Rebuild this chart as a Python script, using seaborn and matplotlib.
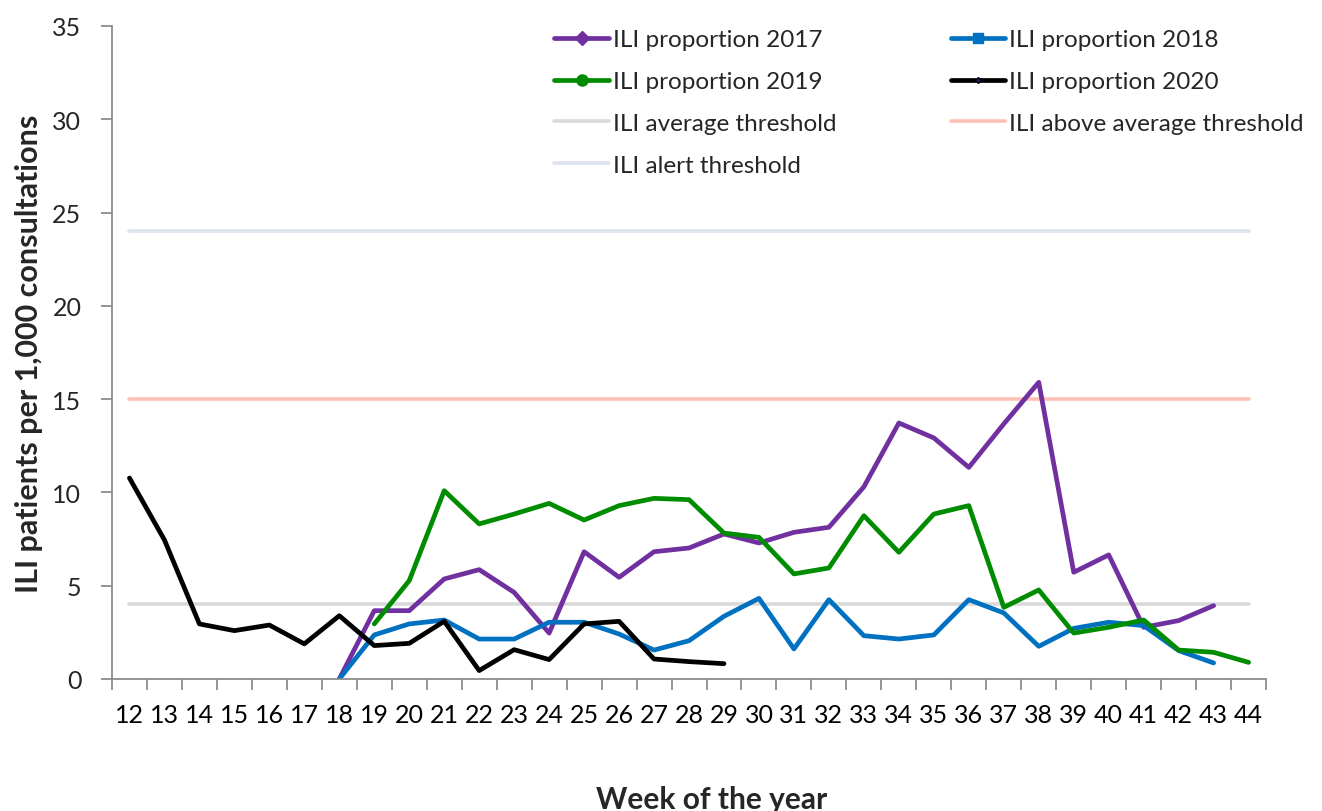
import numpy as np
import pandas as pd
import matplotlib
matplotlib.use("Agg")
import matplotlib.pyplot as plt
from matplotlib.lines import Line2D
import seaborn as sns

weeks = list(range(12, 45))

weeks_2017 = list(range(18, 44))
ili_2017 = [0.0, 3.66, 3.66, 5.36, 5.86, 4.64, 2.46, 6.82, 5.45, 6.82, 7.02, 7.77, 7.29,
            7.86, 8.13, 10.3, 13.72, 12.92, 11.34, 13.67, 15.9, 5.72, 6.65, 2.77, 3.13, 3.93]

weeks_2018 = list(range(18, 44))
ili_2018 = [0.0, 2.36, 2.95, 3.16, 2.14, 2.14, 3.04, 3.04, 2.41, 1.55, 2.05, 3.36, 4.32,
            1.61, 4.25, 2.32, 2.14, 2.36, 4.25, 3.54, 1.75, 2.71, 3.04, 2.86, 1.52, 0.86]

weeks_2019 = list(range(19, 45))
ili_2019 = [2.95, 5.27, 10.09, 8.31, 8.84, 9.41, 8.52, 9.29, 9.68, 9.61, 7.82, 7.59, 5.63,
            5.95, 8.75, 6.79, 8.84, 9.29, 3.84, 4.77, 2.46, 2.77, 3.16, 1.55, 1.43, 0.89]

weeks_2020 = list(range(12, 30))
ili_2020 = [10.77, 7.45, 2.95, 2.59, 2.89, 1.88, 3.39, 1.79, 1.91, 3.09, 0.45, 1.57, 1.04,
            2.95, 3.09, 1.07, 0.93, 0.82]

avg_threshold = 4.0
above_avg_threshold = 15.0
alert_threshold = 24.0

labels = ["ILI proportion 2017", "ILI proportion 2018", "ILI proportion 2019",
          "ILI proportion 2020", "ILI average threshold", "ILI above average threshold",
          "ILI alert threshold"]

sns.set_theme(style="white")
plt.rcParams['font.family'] = ['Lato', 'DejaVu Sans']

c17, c18, c19, c20 = "#7030A0", "#0070C0", "#008C00", "#000000"
c_avg, c_above, c_alert = "#D9D9D9", "#FFC0B4", "#DCE3EE"

fig = plt.figure(figsize=(13.22, 8.12), dpi=100)
ax = fig.add_axes([0.0847, 0.1626, 0.873, 0.8042])

lw_thr = 2.6
sns.lineplot(x=weeks, y=[alert_threshold] * len(weeks), ax=ax, color=c_alert, lw=lw_thr)
sns.lineplot(x=weeks, y=[above_avg_threshold] * len(weeks), ax=ax, color=c_above, lw=lw_thr)
sns.lineplot(x=weeks, y=[avg_threshold] * len(weeks), ax=ax, color=c_avg, lw=lw_thr)

lw = 3.4
sns.lineplot(x=weeks_2017, y=ili_2017, ax=ax, color=c17, lw=lw)
sns.lineplot(x=weeks_2018, y=ili_2018, ax=ax, color=c18, lw=lw)
sns.lineplot(x=weeks_2019, y=ili_2019, ax=ax, color=c19, lw=lw)
sns.lineplot(x=weeks_2020, y=ili_2020, ax=ax, color=c20, lw=lw)

ax.set_xlim(11.5, 44.5)
ax.set_ylim(0, 35)
ax.set_yticks(range(0, 36, 5))
ax.set_xticks(weeks)
ax.set_xticklabels([str(w) for w in weeks])
ax.set_xticks(np.arange(11.5, 45, 1.0), minor=True)
ax.tick_params(axis='x', which='major', length=0, labelsize=18, pad=17, colors="#000000")
ax.tick_params(axis='x', which='minor', length=8, width=1.3, color="#8C8C8C", bottom=True)
ax.tick_params(axis='y', which='major', length=8, width=1.3, color="#8C8C8C", labelsize=18,
               left=True, pad=14)

for s in ["top", "right"]:
    ax.spines[s].set_visible(False)
for s in ["left", "bottom"]:
    ax.spines[s].set_color("#8C8C8C")
    ax.spines[s].set_linewidth(1.3)

ax.set_xlabel("Week of the year", fontsize=21.5, fontweight="bold")
ax.xaxis.set_label_coords(0.52, -0.162)
ax.set_ylabel("ILI patients per 1,000 consultations", fontsize=22, fontweight="bold", labelpad=7)

h17 = Line2D([], [], color=c17, lw=lw, marker="D", markersize=7)
h18 = Line2D([], [], color=c18, lw=lw, marker="s", markersize=7)
h19 = Line2D([], [], color=c19, lw=lw, marker="o", markersize=8)
h20 = Line2D([], [], color=c20, lw=lw, marker="D", markersize=3, markerfacecolor="#1F1F7A")
havg = Line2D([], [], color=c_avg, lw=lw_thr)
habove = Line2D([], [], color=c_above, lw=lw_thr)
halert = Line2D([], [], color=c_alert, lw=lw_thr)

handles = [h17, h19, havg, halert, h18, h20, habove]
leg_labels = [labels[0], labels[2], labels[4], labels[6], labels[1], labels[3], labels[5]]
ax.legend(handles, leg_labels, ncol=2, frameon=False, fontsize=17.5,
          loc="upper left", bbox_to_anchor=(0.375, 1.01), borderaxespad=0,
          handlelength=2.25, handletextpad=0.15, labelspacing=0.86, columnspacing=4.7)

fig.savefig("out.png", dpi=100)
